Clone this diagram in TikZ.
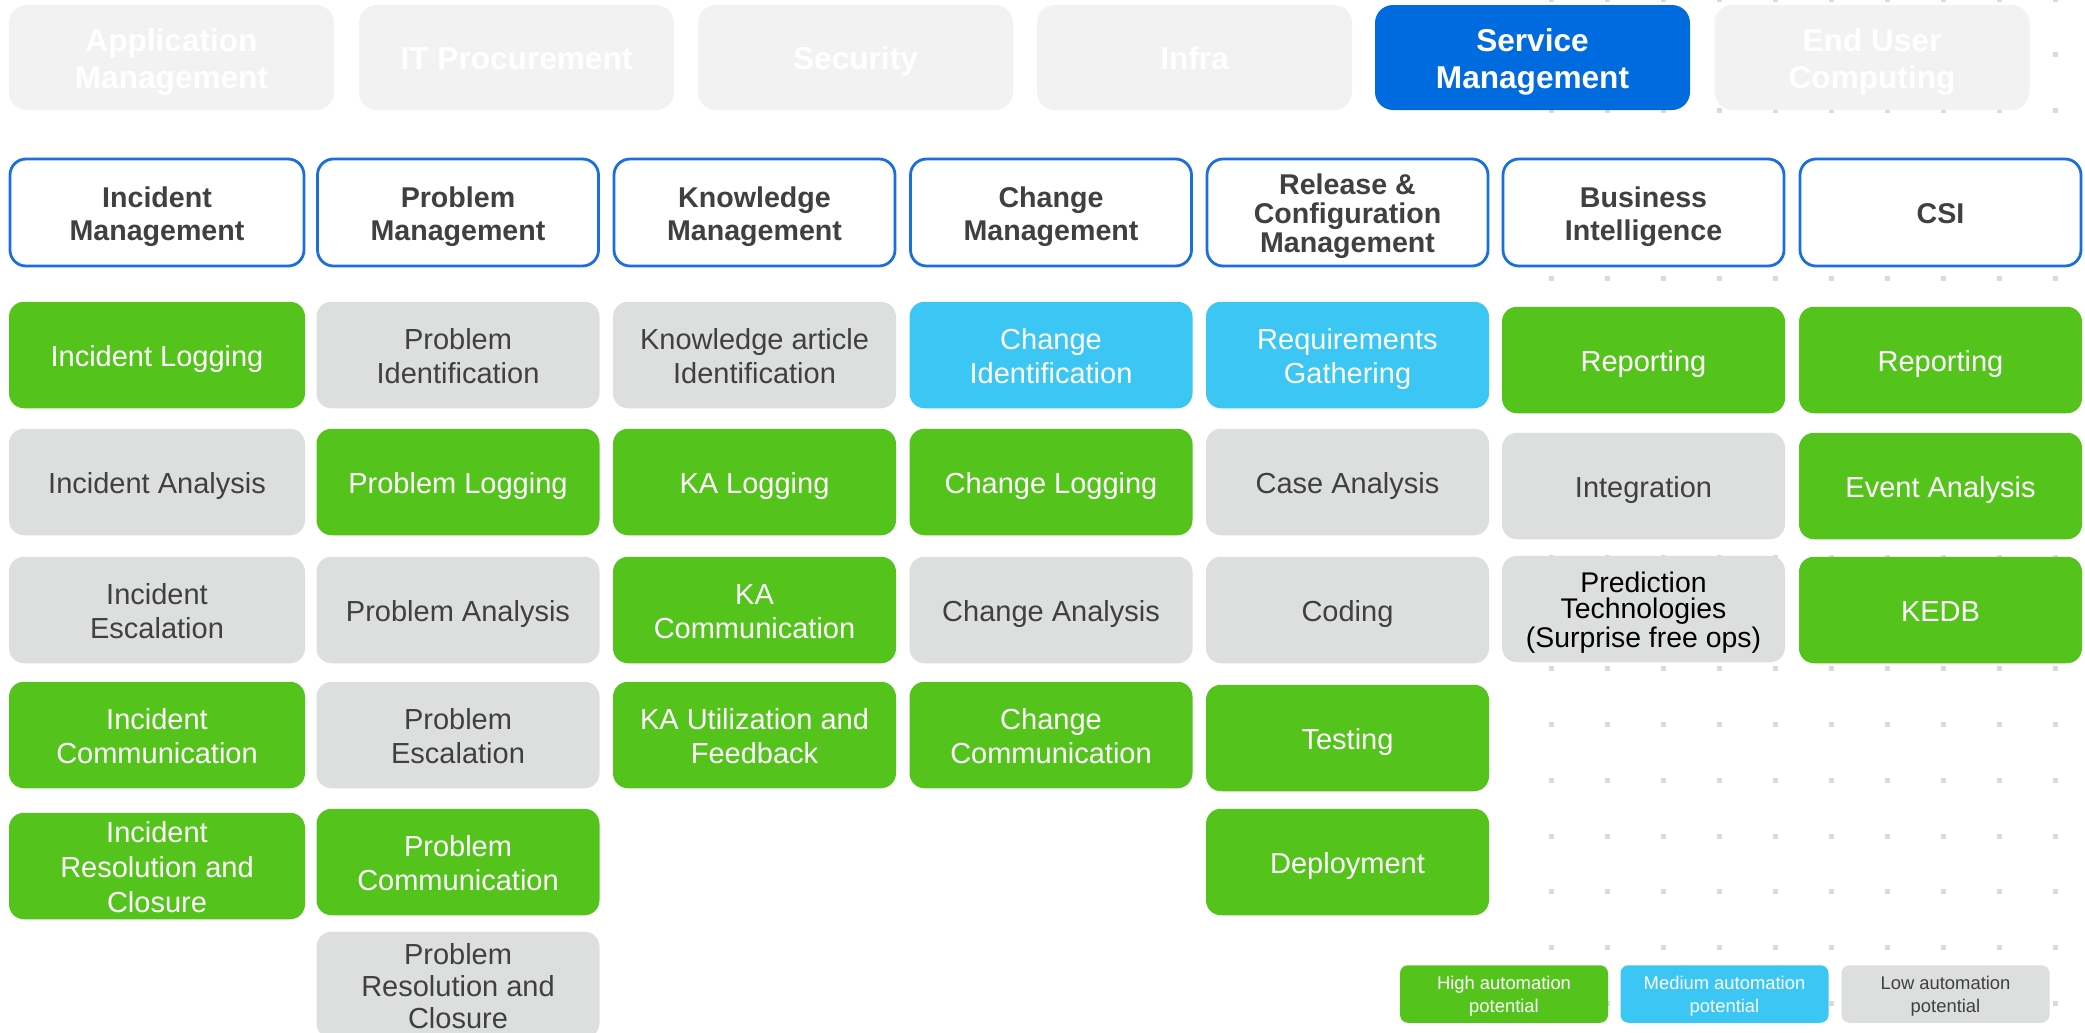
\documentclass[tikz,border=0pt]{standalone}
\usepackage{fontspec}
\setmainfont{Liberation Sans}
\definecolor{grn}{HTML}{54C41D}
\definecolor{lblue}{HTML}{3BC6F4}
\definecolor{gry}{HTML}{DDDEDE}
\definecolor{tabgray}{HTML}{F2F2F2}
\definecolor{svcblue}{HTML}{006ADF}
\definecolor{hdrblue}{HTML}{1A6FDD}
\definecolor{txtdark}{HTML}{404040}
\definecolor{dotc}{HTML}{DADADA}
\newcommand{\ascline}{\rule{0pt}{1.0em}}
\newcommand{\fl}{\rule{0pt}{1.0em}}
\newcommand{\dscline}{\rule[-0.212em]{0pt}{0.212em}}
\tikzset{
  evenline/.style={execute at begin node=\ascline, execute at end node=\dscline},
  tabbox/.style={evenline, rounded corners=9pt, inner sep=0pt, align=center, fill=tabgray, text=white,
    font=\fontsize{15.8}{18.6}\selectfont\bfseries, minimum height=52.5pt, minimum width=157.5pt},
  hdrbox/.style={evenline, rounded corners=8pt, inner sep=0pt, align=center, draw=hdrblue, line width=1.4pt, fill=white,
    text=txtdark, font=\fontsize{14.3}{16.6}\selectfont\bfseries, minimum height=53.5pt, minimum width=140.5pt},
  cbox/.style={evenline, rounded corners=7.5pt, inner sep=0pt, align=center,
    font=\fontsize{14.5}{17.3}\selectfont, minimum height=53.25pt, minimum width=141.5pt},
  hi/.style={cbox, fill=grn, text=white},
  med/.style={cbox, fill=lblue, text=white},
  lo/.style={cbox, fill=gry, text=txtdark},
  legbox/.style={evenline, rounded corners=4pt, inner sep=0pt, align=center,
    font=\fontsize{9.2}{11.3}\selectfont, minimum height=28.75pt, minimum width=104pt},
}
\begin{document}
\begin{tikzpicture}[x=0.5pt,y=-0.5pt]
\useasboundingbox (0,0) rectangle (2085,1033);
\clip (0,0) rectangle (2085,1033);
\fill[white] (0,0) rectangle (2085,1033);
% dot grid
\foreach \i in {0,...,9}{
  \foreach \j in {0,...,18}{
    \fill[dotc] ({1551+56*\i-2.5},{-1+55.8*\j-2.5}) rectangle ++(5,5);
  }
}
% top tabs
\node[tabbox, minimum width=162.5pt] (t1) at (171.5,57.5) {\fl Application\\Management};
\node[tabbox] (t2) at (516.5,57.5) {IT Procurement};
\node[tabbox] (t3) at (855.5,57.5) {Security};
\node[tabbox] (t4) at (1194.5,57.5) {Infra};
\node[tabbox, fill=svcblue] (t5) at (1532.5,57.5) {\fl Service\\Management};
\node[tabbox] (t6) at (1872,57.5) {\fl End User\\Computing};
% headers
\node[hdrbox, minimum width=147pt] (h1) at (157,212.5) {\fl Incident\\Management};
\node[hdrbox] (h2) at (458,212.5) {\fl Problem\\Management};
\node[hdrbox] (h3) at (754.5,212.5) {\fl Knowledge\\Management};
\node[hdrbox] (h4) at (1051,212.5) {\fl Change\\Management};
\node[hdrbox, font=\fontsize{14.3}{14.6}\selectfont\bfseries] (h5) at (1347.5,212.5) {\fl Release \&\\Configuration\\Management};
\node[hdrbox] (h6) at (1643.5,212.5) {\fl Business\\Intelligence};
\node[hdrbox] (h7) at (1940.5,212.5) {CSI};
% column 1
\node[hi, minimum width=148pt] (c1a) at (157,355) {Incident Logging};
\node[lo, minimum width=148pt] (c1b) at (157,482) {Incident Analysis};
\node[lo, minimum width=148pt] (c1c) at (157,610) {\fl Incident\\Escalation};
\node[hi, minimum width=148pt] (c1d) at (157,735) {\fl Incident\\Communication};
\node[hi, minimum width=148pt] (c1e) at (157,866) {\fl Incident\\Resolution and\\Closure};
% column 2
\node[lo] (c2a) at (458,355) {\fl Problem\\Identification};
\node[hi] (c2b) at (458,482) {Problem Logging};
\node[lo] (c2c) at (458,610) {Problem Analysis};
\node[lo] (c2d) at (458,735) {\fl Problem\\Escalation};
\node[hi] (c2e) at (458,862) {\fl Problem\\Communication};
\node[lo, font=\fontsize{14.5}{16}\selectfont] (c2f) at (458,985) {\fl Problem\\Resolution and\\Closure};
% column 3
\node[lo] (c3a) at (754.5,355) {\fl Knowledge article\\Identification};
\node[hi] (c3b) at (754.5,482) {KA Logging};
\node[hi] (c3c) at (754.5,610) {\fl KA\\Communication};
\node[hi] (c3d) at (754.5,735) {\fl KA Utilization and\\Feedback};
% column 4
\node[med] (c4a) at (1051,355) {\fl Change\\Identification};
\node[hi] (c4b) at (1051,482) {Change Logging};
\node[lo] (c4c) at (1051,610) {Change Analysis};
\node[hi] (c4d) at (1051,735) {\fl Change\\Communication};
% column 5
\node[med] (c5a) at (1347.5,355) {\fl Requirements\\Gathering};
\node[lo] (c5b) at (1347.5,482) {Case Analysis};
\node[lo] (c5c) at (1347.5,610) {Coding};
\node[hi] (c5d) at (1347.5,738) {Testing};
\node[hi] (c5e) at (1347.5,862) {Deployment};
% column 6
\node[hi] (c6a) at (1643.5,360) {Reporting};
\node[lo] (c6b) at (1643.5,486) {Integration};
\node[lo, text=black, font=\fontsize{14.2}{13}\selectfont] (c6c) at (1643.5,609) {\fl Prediction\\Technologies\\(Surprise free ops)};
% column 7
\node[hi] (c7a) at (1940.5,360) {Reporting};
\node[hi] (c7b) at (1940.5,486) {Event Analysis};
\node[hi] (c7c) at (1940.5,610) {KEDB};
% legend
\node[legbox, fill=grn, text=white] (l1) at (1504,994) {\fl High automation\\potential};
\node[legbox, fill=lblue, text=white] (l2) at (1724.5,994) {\fl Medium automation\\potential};
\node[legbox, fill=gry, text=txtdark] (l3) at (1945.5,994) {\fl Low automation\\potential};
\end{tikzpicture}
\end{document}
